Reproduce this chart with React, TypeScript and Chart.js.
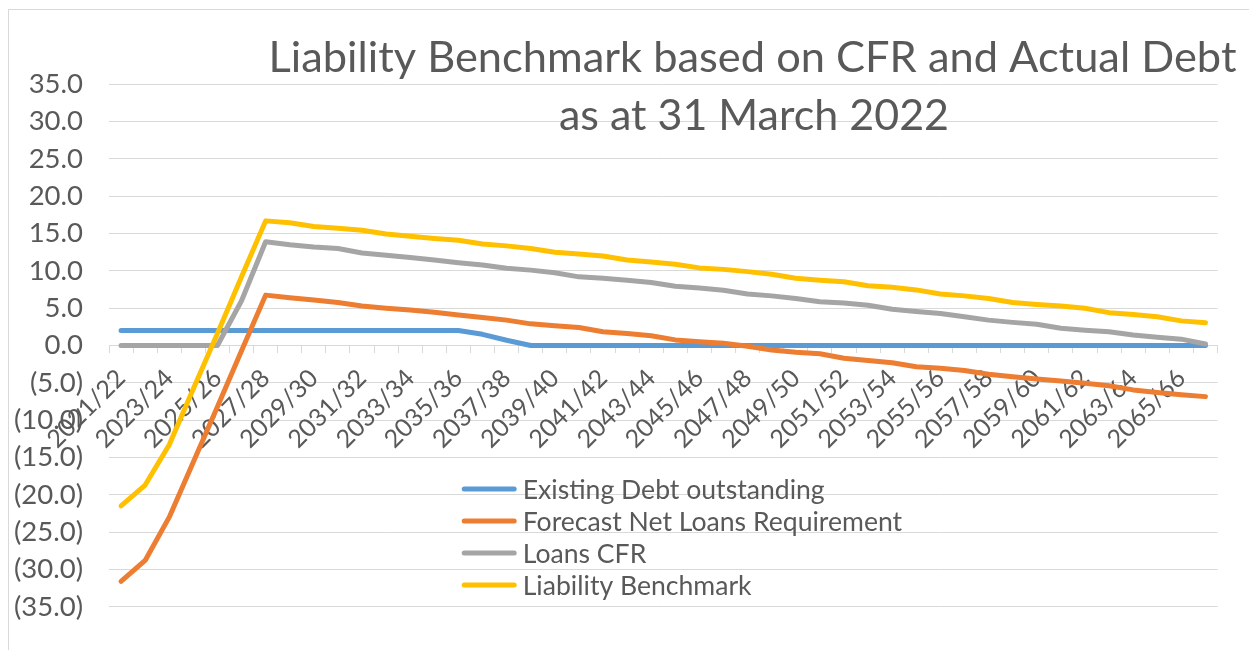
import React, { useEffect, useRef } from 'react';
import { Chart, registerables } from 'chart.js';

Chart.register(...registerables);

const TITLE_LINES = ['Liability Benchmark based on CFR and Actual Debt', 'as at 31 March 2022'];

const CATEGORIES = [
  '2021/22', '2022/23', '2023/24', '2024/25', '2025/26', '2026/27', '2027/28', '2028/29',
  '2029/30', '2030/31', '2031/32', '2032/33', '2033/34', '2034/35', '2035/36', '2036/37',
  '2037/38', '2038/39', '2039/40', '2040/41', '2041/42', '2042/43', '2043/44', '2044/45',
  '2045/46', '2046/47', '2047/48', '2048/49', '2049/50', '2050/51', '2051/52', '2052/53',
  '2053/54', '2054/55', '2055/56', '2056/57', '2057/58', '2058/59', '2059/60', '2060/61',
  '2061/62', '2062/63', '2063/64', '2064/65', '2065/66', '2066/67',
];

const EXISTING_DEBT = [
  2.0, 2.0, 2.0, 2.0, 2.0, 2.0, 2.0, 2.0, 2.0, 2.0, 2.0, 2.0, 2.0, 2.0, 2.0, 1.5,
  0.7, 0.0, 0.0, 0.0, 0.0, 0.0, 0.0, 0.0, 0.0, 0.0, 0.0, 0.0, 0.0, 0.0, 0.0, 0.0,
  0.0, 0.0, 0.0, 0.0, 0.0, 0.0, 0.0, 0.0, 0.0, 0.0, 0.0, 0.0, 0.0, 0.0,
];

const FORECAST_NET_LOANS = [
  -31.6, -28.8, -23.0, -15.6, -8.2, -0.7, 6.75, 6.4, 6.1, 5.75, 5.3, 5.0, 4.75, 4.45, 4.1, 3.75,
  3.4, 2.9, 2.65, 2.4, 1.85, 1.6, 1.3, 0.75, 0.5, 0.3, -0.1, -0.6, -0.9, -1.1, -1.7, -2.0,
  -2.3, -2.85, -3.05, -3.35, -3.85, -4.2, -4.5, -4.75, -5.05, -5.4, -5.95, -6.3, -6.6, -6.85,
];

const LOANS_CFR = [
  0.0, 0.0, 0.0, 0.0, 0.0, 6.0, 13.9, 13.5, 13.2, 13.0, 12.4, 12.1, 11.8, 11.45, 11.1, 10.8,
  10.35, 10.1, 9.75, 9.2, 9.0, 8.75, 8.45, 7.95, 7.7, 7.4, 6.9, 6.65, 6.3, 5.85, 5.7, 5.4,
  4.85, 4.55, 4.3, 3.85, 3.4, 3.1, 2.85, 2.3, 2.05, 1.85, 1.4, 1.1, 0.85, 0.2,
];

const LIABILITY_BENCHMARK = [
  -21.5, -18.7, -13.3, -5.8, 1.6, 9.2, 16.7, 16.45, 15.95, 15.7, 15.45, 14.95, 14.65, 14.35, 14.1, 13.6,
  13.35, 13.0, 12.5, 12.25, 12.0, 11.45, 11.2, 10.9, 10.4, 10.2, 9.9, 9.55, 9.0, 8.75, 8.55, 8.0,
  7.8, 7.45, 6.9, 6.65, 6.3, 5.75, 5.5, 5.3, 5.0, 4.4, 4.15, 3.85, 3.3, 3.05,
];

const SERIES_NAMES = [
  'Existing Debt outstanding',
  'Forecast Net Loans Requirement',
  'Loans CFR',
  'Liability Benchmark',
];
const SERIES_VALUES = [EXISTING_DEBT, FORECAST_NET_LOANS, LOANS_CFR, LIABILITY_BENCHMARK];
const SERIES_COLORS = ['#5B9BD5', '#ED7D31', '#A5A5A5', '#FFC000'];

const Y_MIN = -35;
const Y_MAX = 35;
const Y_STEP = 5;

const TEXT_COLOR = '#595959';
const GRID_COLOR = '#d9d9d9';
const FONT = 'Lato';

const formatValue = (v: number) =>
  v < 0 ? `(${Math.abs(v).toFixed(1)})` : Number(v).toFixed(1);

const overlayPlugin = {
  id: 'overlay',
  afterDraw(chart: any) {
    const ctx = chart.ctx as CanvasRenderingContext2D;
    ctx.save();
    // Title
    ctx.fillStyle = TEXT_COLOR;
    ctx.textAlign = 'center';
    ctx.textBaseline = 'alphabetic';
    ctx.font = `43.4px ${FONT}`;
    ctx.fillText(TITLE_LINES[0], 743.5, 61.7);
    ctx.font = `43px ${FONT}`;
    ctx.fillText(TITLE_LINES[1], 745, 120);
    // Legend
    const ds = chart.data.datasets;
    for (let k = 0; k < ds.length; k++) {
      const y = 479 + 32 * k;
      ctx.strokeStyle = ds[k].borderColor;
      ctx.lineWidth = 5;
      ctx.lineCap = 'round';
      ctx.beginPath();
      ctx.moveTo(455.2, y);
      ctx.lineTo(505.2, y);
      ctx.stroke();
      ctx.fillStyle = TEXT_COLOR;
      ctx.textAlign = 'left';
      ctx.textBaseline = 'middle';
      ctx.font = `26.6px ${FONT}`;
      ctx.fillText(ds[k].label, 513.7, y + 1);
    }
    ctx.restore();
  },
};

export default function App() {
  const canvasRef = useRef<HTMLCanvasElement | null>(null);

  useEffect(() => {
    const canvas = canvasRef.current;
    if (!canvas) return;
    const datasets = SERIES_NAMES.map((name, k) => ({
      label: name,
      data: SERIES_VALUES[k],
      borderColor: SERIES_COLORS[k],
      backgroundColor: SERIES_COLORS[k],
      borderWidth: 5,
      borderCapStyle: 'round' as const,
      borderJoinStyle: 'round' as const,
      pointRadius: 0,
      pointHoverRadius: 0,
      tension: 0,
      fill: false,
      order: SERIES_NAMES.length - k,
    }));
    const chart = new Chart(canvas, {
      type: 'line',
      data: { labels: CATEGORIES, datasets },
      options: {
        animation: false,
        responsive: false,
        maintainAspectRatio: false,
        devicePixelRatio: 1,
        layout: { padding: { left: 0, right: 33.5, top: 74.3, bottom: 53.3 } },
        plugins: {
          legend: { display: false },
          title: { display: false },
          tooltip: { enabled: false },
        },
        scales: {
          x: {
            type: 'category',
            position: { y: 0 } as any,
            offset: true,
            grid: {
              display: true,
              drawOnChartArea: false,
              drawTicks: true,
              tickLength: 7,
              offset: true,
              color: GRID_COLOR,
              lineWidth: 1,
            },
            border: { display: true, color: GRID_COLOR, width: 1 },
            ticks: {
              autoSkip: false,
              maxRotation: 45,
              minRotation: 45,
              padding: 11,
              color: TEXT_COLOR,
              font: { family: FONT, size: 25 },
              callback: function (this: any, v: any, i: number) {
                return i % 2 === 0 ? this.getLabelForValue(v) : '';
              },
            },
          },
          y: {
            min: Y_MIN,
            max: Y_MAX,
            ticks: {
              stepSize: Y_STEP,
              padding: 26,
              color: TEXT_COLOR,
              font: { family: FONT, size: 27.5 },
              callback: (v: any) => formatValue(Number(v)),
            },
            grid: { color: GRID_COLOR, lineWidth: 1, drawTicks: false },
            border: { display: false },
            afterFit: (s: any) => {
              s.width = 100;
            },
          },
        },
      },
      plugins: [overlayPlugin],
    });
    if ((document as any).fonts && (document as any).fonts.ready) {
      (document as any).fonts.ready.then(() => chart.update());
    }
    return () => chart.destroy();
  }, []);

  return (
    <div
      style={{
        position: 'relative',
        width: 1242,
        height: 650,
        border: '1px solid #d9d9d9',
        marginTop: 1,
        background: '#fff',
      }}
    >
      <canvas ref={canvasRef} width={1242} height={650} style={{ display: 'block', width: 1242, height: 650 }} />
    </div>
  );
}
